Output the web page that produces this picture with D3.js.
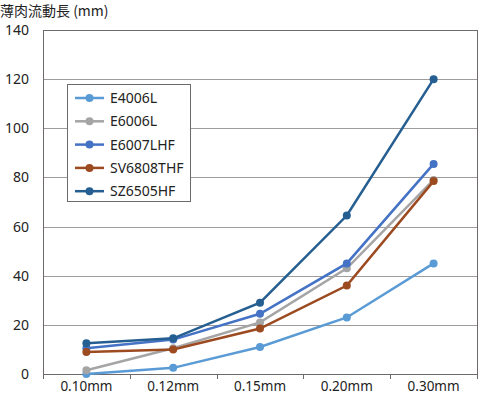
<!DOCTYPE html>
<html>
<head>
<meta charset="utf-8">
<script src="https://cdn.jsdelivr.net/npm/d3@7"></script>
<style>
body { margin: 0; background: #fff; }
text { font-family: "Liberation Sans Narrow", "Noto Sans", sans-serif; fill: #222; }
</style>
</head>
<body>
<div id="chart"></div>
<script>
var width = 480
var height = 396

var categories = ["0.10mm", "0.12mm", "0.15mm", "0.20mm", "0.30mm"]
var seriesNames = ["E4006L", "E6006L", "E6007LHF", "SV6808THF", "SZ6505HF"]
var seriesColors = ["#5b9bd5", "#a5a5a5", "#4472c4", "#9c4a20", "#255e91"]
var e4006l = [0, 2.5, 11, 23, 45]
var e6006l = [1.5, 10.5, 21, 43, 79]
var e6007lhf = [10.5, 14, 24.5, 45, 85.5]
var sv6808thf = [9, 10, 18.5, 36, 78.5]
var sz6505hf = [12.5, 14.5, 29, 64.5, 120]
var yTicks = [0, 20, 40, 60, 80, 100, 120, 140]

var seriesValues = [e4006l, e6006l, e6007lhf, sv6808thf, sz6505hf]

var svg = d3.select("#chart")
    .append("svg")
        .attr("width", width)
        .attr("height", height)

var plotLeft = 43, plotRight = 477, plotTop = 30, plotBottom = 374

var x = d3.scaleBand()
    .domain(categories)
    .range([plotLeft, plotRight])
var y = d3.scaleLinear()
    .domain([0, 140])
    .range([plotBottom, plotTop])

// gridlines
svg.selectAll("line.grid")
    .data(yTicks.slice(1, -1))
    .enter()
    .append("line")
        .attr("class", "grid")
        .attr("x1", plotLeft)
        .attr("x2", plotRight)
        .attr("y1", d => Math.round(y(d)) + 0.5)
        .attr("y2", d => Math.round(y(d)) + 0.5)
        .attr("stroke", "#a09c9c")
        .attr("stroke-width", 1)

// plot frame
svg.append("rect")
    .attr("x", plotLeft + 0.5)
    .attr("y", plotTop + 0.5)
    .attr("width", plotRight - plotLeft)
    .attr("height", plotBottom - plotTop)
    .attr("fill", "none")
    .attr("stroke", "#6e6a6a")
    .attr("stroke-width", 1)

// y labels
svg.selectAll("text.ylab")
    .data(yTicks)
    .enter()
    .append("text")
        .attr("class", "ylab")
        .attr("x", 29)
        .attr("y", d => y(d) + 5)
        .attr("text-anchor", "end")
        .attr("font-size", 14)
        .text(d => d)

// x ticks at band edges
var edges = categories.map(c => x(c)).concat([plotRight])
svg.selectAll("line.xtick")
    .data(edges)
    .enter()
    .append("line")
        .attr("class", "xtick")
        .attr("x1", d => Math.round(d) + 0.5)
        .attr("x2", d => Math.round(d) + 0.5)
        .attr("y1", plotBottom)
        .attr("y2", plotBottom + 5)
        .attr("stroke", "#6e6a6a")

svg.selectAll("text.xlab")
    .data(categories)
    .enter()
    .append("text")
        .attr("class", "xlab")
        .attr("x", d => x(d) + x.bandwidth() / 2)
        .attr("y", 391)
        .attr("text-anchor", "middle")
        .attr("font-size", 13.5)
        .text(d => d)

// title
svg.append("text")
    .attr("x", 0)
    .attr("y", 16)
    .attr("font-size", 14)
    .style("font-family", "'Noto Sans CJK JP', sans-serif")
    .text("薄肉流動長 (mm)")

var line = d3.line()
    .x((d, i) => x(categories[i]) + x.bandwidth() / 2)
    .y(d => y(d))

seriesValues.forEach(function(vals, s){
    svg.append("path")
        .attr("d", line(vals))
        .attr("fill", "none")
        .attr("stroke", seriesColors[s])
        .attr("stroke-width", 2.5)
    svg.selectAll("circle.s" + s)
        .data(vals)
        .enter()
        .append("circle")
            .attr("class", "s" + s)
            .attr("cx", (d, i) => x(categories[i]) + x.bandwidth() / 2)
            .attr("cy", d => y(d))
            .attr("r", 4)
            .attr("fill", seriesColors[s])
})

// legend
svg.append("rect")
    .attr("x", 67.5)
    .attr("y", 84.5)
    .attr("width", 123)
    .attr("height", 117)
    .attr("fill", "#fff")
    .attr("stroke", "#6e6a6a")
var legend = svg.append("g")

var items = legend.selectAll("g")
    .data(seriesNames)
    .enter()
    .append("g")
        .attr("transform", (d, i) => "translate(0," + (98 + i * 23.3) + ")")
items.append("line")
    .attr("x1", 75)
    .attr("x2", 104)
    .attr("stroke", (d, i) => seriesColors[i])
    .attr("stroke-width", 2.5)
items.append("circle")
    .attr("cx", 89.5)
    .attr("r", 4)
    .attr("fill", (d, i) => seriesColors[i])
items.append("text")
    .attr("x", 110)
    .attr("y", 5)
    .attr("font-size", 14)
    .text(d => d)
</script>
</body>
</html>
